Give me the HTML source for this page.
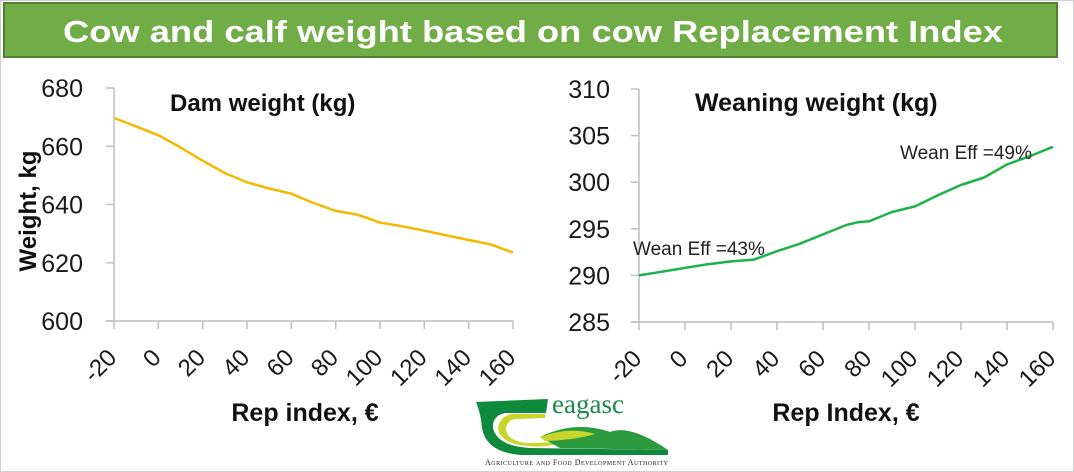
<!DOCTYPE html>
<html><head><meta charset="utf-8"><style>
html,body{margin:0;padding:0;background:#fff;}
svg{display:block;font-family:"Liberation Sans",sans-serif;}
</style></head><body>
<svg id="root" width="1074" height="472" viewBox="0 0 1074 472" xmlns="http://www.w3.org/2000/svg">
<rect x="0.5" y="0.5" width="1073" height="471" fill="#fff" stroke="#d0d0d0"/>
<rect x="4" y="3" width="1053" height="54" fill="#70ad47" stroke="#507e32" stroke-width="2"/>
<text x="533" y="42" text-anchor="middle" fill="#fff" font-size="31" font-weight="bold" textLength="940" lengthAdjust="spacingAndGlyphs">Cow and calf weight based on cow Replacement Index</text>
<g id="left"></g>
<g id="right"></g>
<g>
<path d="M476 402 L548 399 L546 413 L505 413 Q492 416 493 428 Q497 446 530 448 L668 450 L668 455 L520 455 Q486 452 482 428 Q481 414 476 402Z" fill="#0f8a3c"/>
<path d="M498 428 Q500 416 512 414 L545 414 L545 418 L515 419 Q506 421 506 430 Q508 442 530 443 L560 442 Q550 448 528 446 Q500 444 498 428Z" fill="#c8d62b"/>
<path d="M540 437 Q575 420 610 432 Q630 424 668 450 L560 448Z" fill="#2c9a3e"/>
<path d="M540 437 Q570 426 595 434 Q575 440 545 441Z" fill="#c8d62b"/>
<text x="552" y="413" fill="#1a8a4a" font-family="Liberation Serif,serif" font-size="27">eagasc</text>
<text x="485" y="465" fill="#222" font-family="Liberation Serif,serif" font-size="8" font-variant="small-caps" textLength="183">Agriculture and Food Development Authority</text>
</g>
</svg>
<script>
const damX        = [-20,-10,0,10,20,30,40,50,60,70,80,90,100,110,120,130,140,150,160];
const damY        = [669.7,666.8,663.8,659.6,655,650.8,647.6,645.5,643.7,640.5,637.8,636.5,633.8,632.5,631,629.4,627.8,626.3,623.5];
const weanX       = [-20,-10,0,10,20,30,40,50,60,70,75,80,90,100,110,120,130,140,150,160];
const weanY       = [290,290.4,290.8,291.2,291.5,291.7,292.6,293.4,294.4,295.4,295.7,295.8,296.8,297.4,298.6,299.7,300.5,301.9,302.8,303.8];
const xTickLabels = [-20,0,20,40,60,80,100,120,140,160];
const damTicks    = [600,620,640,660,680];
const weanTicks   = [285,290,295,300,305,310];

const NS='http://www.w3.org/2000/svg';
function mk(p,tag,attrs){const e=document.createElementNS(NS,tag);for(const k in attrs)e.setAttribute(k,attrs[k]);p.appendChild(e);return e;}

function drawChart(g,cfg){
  const xs=v=>cfg.x0+(v-(-20))/(180)*(cfg.x1-cfg.x0);
  const ys=v=>cfg.y0-(v-cfg.ymin)/(cfg.ymax-cfg.ymin)*(cfg.y0-cfg.y1);
  const ya=mk(g,'line',{x1:cfg.x0,y1:cfg.y1,x2:cfg.x0,y2:cfg.y0,stroke:'#bfbfbf','stroke-width':1.5});
  
  
  const xa=mk(g,'line',{x1:cfg.x0-8,y1:cfg.y0,x2:cfg.x1,y2:cfg.y0,stroke:'#bfbfbf','stroke-width':1.5});
  
  
  cfg.yt.forEach(v=>{
    const y=ys(v);
    const t=mk(g,'line',{x1:cfg.x0-8,y1:y,x2:cfg.x0,y2:y,stroke:'#bfbfbf','stroke-width':1.5});
    
    
    const l=mk(g,'text',{x:cfg.x0-cfg.lpad,y:y+9,'text-anchor':'end','font-size':25,fill:'#1a1a1a'});
    l.textContent=v;
    
    
  });
  xTickLabels.forEach(v=>{
    const x=xs(v);
    const t=mk(g,'line',{x1:x,y1:cfg.y0,x2:x,y2:cfg.y0+8,stroke:'#bfbfbf','stroke-width':1.5});
    
    
    const l=mk(g,'text',{x:x+4,y:cfg.y0+38,'text-anchor':'end','font-size':24,fill:'#1a1a1a',transform:`rotate(-45 ${x+4} ${cfg.y0+38})`});
    l.textContent=v;
    
    
  });
  const d=cfg.xv.map((v,i)=>(i?'L':'M')+xs(v).toFixed(1)+' '+ys(cfg.yv[i]).toFixed(1)).join(' ');
  const p=mk(g,'path',{d:d,fill:'none',stroke:cfg.color,'stroke-width':2.5,'stroke-linejoin':'round'});
  
  
  const ti=mk(g,'text',{x:cfg.tx,y:111,'font-size':cfg.tfs,'font-weight':'bold',fill:'#111'});
  ti.textContent=cfg.title;
  
  
  const xt=mk(g,'text',{x:cfg.xtx,y:421,'text-anchor':'middle','font-size':25,'font-weight':'bold',fill:'#111'});
  xt.textContent=cfg.xtitle;
  
  
  return {xs,ys};
}
drawChart(document.getElementById('left'),{x0:114,x1:513,y0:321,y1:88,ymin:600,ymax:680,yt:damTicks,xv:damX,yv:damY,color:'#f5b800',title:'Dam weight (kg)',tx:170,tfs:24,xtitle:'Rep index, €',xtx:305,lpad:31,});
drawChart(document.getElementById('right'),{x0:639,x1:1053,y0:322,y1:89,ymin:285,ymax:310,yt:weanTicks,xv:weanX,yv:weanY,color:'#1db34a',title:'Weaning weight (kg)',tx:695,tfs:25,xtitle:'Rep Index, €',xtx:846,lpad:29});
const lg=document.getElementById('left');
const yt=mk(lg,'text',{x:0,y:0,'text-anchor':'middle','font-size':24,'font-weight':'bold',fill:'#111',transform:'rotate(-90) translate(-211 36)'});
yt.textContent='Weight, kg';


const rg=document.getElementById('right');
const a1=mk(rg,'text',{x:633,y:255,'font-size':19,fill:'#222'});
a1.textContent='Wean Eff =43%';


const a2=mk(rg,'text',{x:900,y:159,'font-size':19,fill:'#222'});
a2.textContent='Wean Eff =49%';


</script>
</body></html>
